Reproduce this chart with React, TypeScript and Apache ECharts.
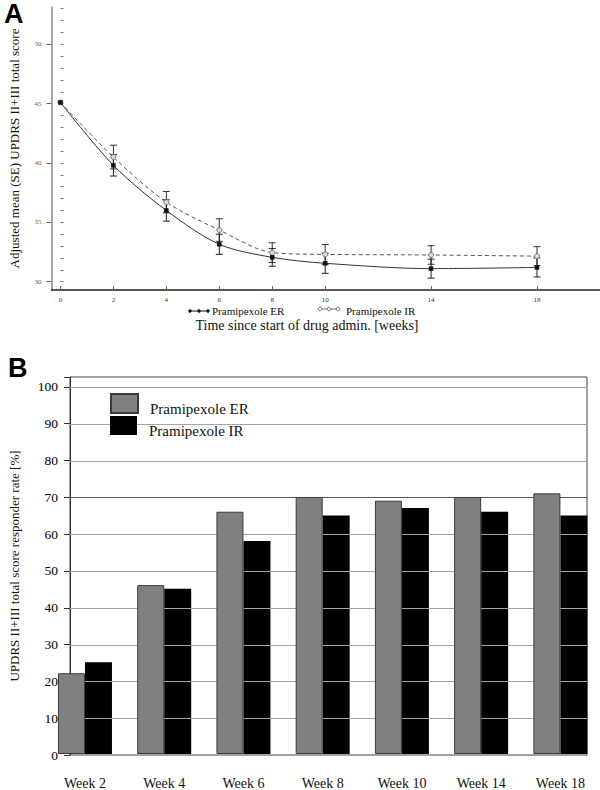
import React, { useEffect, useRef } from "react";
import * as echarts from "echarts";

// ---------- Panel A data ----------
const weeksA = [0, 2, 4, 6, 8, 10, 14, 18];
const erMeanA = [45.1, 39.8, 36.0, 33.15, 32.05, 31.55, 31.1, 31.2];
const erSEA = [0, 0.9, 0.9, 0.85, 0.75, 0.85, 0.8, 0.8];
const irMeanA = [45.1, 40.5, 36.7, 34.35, 32.45, 32.3, 32.25, 32.15];
const irSEA = [0, 1.0, 0.9, 0.95, 0.83, 0.83, 0.78, 0.8];
const xTicksA = [0, 2, 4, 6, 8, 10, 14, 18];
const yTicksA = [30, 35, 40, 45, 50];
const yMinorTicksA = [30, 31, 32, 33, 34, 35, 36, 37, 38, 39, 40, 41, 42, 43, 44, 45, 46, 47, 48, 49, 50, 51, 52, 53];

// ---------- Panel B data ----------
const weeksB = ["Week 2", "Week 4", "Week 6", "Week 8", "Week 10", "Week 14", "Week 18"];
const erRateB = [22, 46, 66, 70, 69, 70, 71];
const irRateB = [25, 45, 58, 65, 67, 66, 65];
const gridLinesB = [10, 20, 30, 40, 50, 60, 70, 80, 90, 100];

const SERIF = "Liberation Serif";
const SANS = "Liberation Sans";

function errorRender(color: string) {
  return (params: any, api: any) => {
    const x = api.value(0);
    const m = api.value(1);
    const se = api.value(2);
    if (!se) return { type: "group", children: [] };
    const t = api.coord([x, m + se]);
    const b = api.coord([x, m - se]);
    const hw = 3.5;
    const style = { stroke: color, lineWidth: 1 };
    return {
      type: "group",
      children: [
        { type: "line", shape: { x1: t[0], y1: t[1], x2: b[0], y2: b[1] }, style },
        { type: "line", shape: { x1: t[0] - hw, y1: t[1], x2: t[0] + hw, y2: t[1] }, style },
        { type: "line", shape: { x1: b[0] - hw, y1: b[1], x2: b[0] + hw, y2: b[1] }, style },
      ],
    };
  };
}

function gridLineRender(params: any, api: any) {
  const v = api.value(0);
  const cs = params.coordSys;
  const y = Math.round(api.coord([0, v])[1]) + 0.5;
  return {
    type: "line",
    shape: { x1: cs.x, y1: y, x2: cs.x + cs.width, y2: y },
    style: { stroke: v === 70 ? "#555" : "#a4a4a4", lineWidth: 1 },
  };
}

const legendText = {
  fontSize: 15,
  color: "#111",
  fontFamily: SERIF,
  rich: { t: { fontSize: 15, color: "#111", fontFamily: SERIF, padding: [10, 0, 0, 7] } },
};

export default function App() {
  const ref = useRef<HTMLDivElement>(null);

  useEffect(() => {
    document.body.style.margin = "0";
    if (!ref.current) return;
    const chart = echarts.init(ref.current, null, { renderer: "svg" });

    const option: any = {
      animation: false,
      backgroundColor: "#fff",
      textStyle: { fontFamily: SERIF },
      grid: [
        { left: 48, top: 7, width: 552, height: 283 },
        { left: 45.35, top: 377, width: 555.1, height: 378 },
        { left: 58, top: 377, width: 529, height: 378, show: true, borderColor: "#444", borderWidth: 1, backgroundColor: "transparent" },
      ],
      xAxis: [
        {
          type: "value",
          gridIndex: 0,
          min: -0.338,
          max: 20.38,
          axisLine: { show: true, onZero: false, lineStyle: { color: "#222", width: 1.5 } },
          axisTick: { show: true, inside: true, length: 4, customValues: xTicksA, lineStyle: { color: "#666" } },
          axisLabel: { customValues: xTicksA, fontSize: 7, color: "#333", margin: 6, fontFamily: SERIF },
          splitLine: { show: false },
        },
        {
          type: "category",
          gridIndex: 1,
          data: weeksB,
          axisLine: { show: false },
          axisTick: { show: false },
          axisLabel: { fontSize: 14, color: "#111", margin: 22, fontFamily: SERIF },
          splitLine: { show: false },
        },
        {
          type: "value",
          gridIndex: 2,
          min: 0,
          max: 1,
          show: false,
        },
      ],
      yAxis: [
        {
          type: "value",
          gridIndex: 0,
          min: 29.3,
          max: 53.14,
          name: "Adjusted mean (SE) UPDRS II+III total score",
          nameLocation: "middle",
          nameGap: 30.5,
          nameRotate: 90,
          nameTextStyle: { fontSize: 13, color: "#111", fontFamily: SERIF },
          axisLine: { show: true, onZero: false, lineStyle: { color: "#888", width: 1.5 } },
          axisTick: { show: true, length: 5, customValues: yTicksA, lineStyle: { color: "#666" } },
          axisLabel: { customValues: yTicksA, fontSize: 7, color: "#666", margin: 10, fontFamily: SERIF },
          splitLine: { show: false },
        },
        {
          type: "value",
          gridIndex: 0,
          min: 29.3,
          max: 53.14,
          axisLine: { show: false },
          axisTick: { show: true, length: 3, customValues: yMinorTicksA, lineStyle: { color: "#777" } },
          axisLabel: { show: false },
          splitLine: { show: false },
        },
        {
          type: "value",
          gridIndex: 1,
          min: 0,
          max: 102.7,
          show: false,
          splitLine: { show: false },
        },
        {
          type: "value",
          gridIndex: 2,
          min: 0,
          max: 102.7,
          interval: 10,
          name: "UPDRS II+III total score responder rate [%]",
          nameLocation: "middle",
          nameGap: 49,
          nameRotate: 90,
          nameTextStyle: { fontSize: 13, color: "#111", fontFamily: SERIF },
          axisLine: { show: true, lineStyle: { color: "#333", width: 1 } },
          axisTick: { show: true, length: 6, lineStyle: { color: "#333" } },
          axisLabel: {
            fontSize: 13.5,
            color: "#000",
            margin: 12,
            fontFamily: SERIF,
            formatter: (v: number) => (Math.abs(v % 10) < 1e-6 ? String(v) : ""),
          },
          splitLine: { show: false },
        },
      ],
      legend: [
        {
          data: ["Pramipexole ER"],
          left: 110,
          top: 393,
          padding: 0,
          z: 8,
          icon: "rect",
          itemWidth: 27,
          itemHeight: 19,
          formatter: "{t|{name}}",
          textStyle: legendText,
        },
        {
          data: ["Pramipexole IR"],
          left: 110,
          top: 416,
          padding: 0,
          z: 8,
          icon: "rect",
          itemWidth: 27,
          itemHeight: 19,
          formatter: "{t|{name}}",
          textStyle: legendText,
        },
      ],
      series: [
        {
          type: "custom",
          name: "irErr",
          xAxisIndex: 0,
          yAxisIndex: 0,
          data: weeksA.map((w, i) => [w, irMeanA[i], irSEA[i]]),
          renderItem: errorRender("#333"),
          z: 3,
        },
        {
          type: "custom",
          name: "erErr",
          xAxisIndex: 0,
          yAxisIndex: 0,
          data: weeksA.map((w, i) => [w, erMeanA[i], erSEA[i]]),
          renderItem: errorRender("#222"),
          z: 3,
        },
        {
          type: "line",
          name: "IR mean",
          xAxisIndex: 0,
          yAxisIndex: 0,
          data: weeksA.map((w, i) => [w, irMeanA[i]]),
          smooth: 0.3,
          symbol: "circle",
          symbolSize: 5,
          itemStyle: { color: "#ddd", borderColor: "#777", borderWidth: 1 },
          lineStyle: { color: "#555", width: 1, type: [4, 3] },
          z: 4,
        },
        {
          type: "line",
          name: "ER mean",
          xAxisIndex: 0,
          yAxisIndex: 0,
          data: weeksA.map((w, i) => [w, erMeanA[i]]),
          smooth: 0.3,
          symbol: "rect",
          symbolSize: 4.5,
          itemStyle: { color: "#111" },
          lineStyle: { color: "#333", width: 1 },
          z: 5,
        },
        {
          type: "bar",
          name: "Pramipexole ER",
          xAxisIndex: 1,
          yAxisIndex: 2,
          data: erRateB,
          barWidth: 27,
          barGap: "0%",
          itemStyle: { color: "#808080", borderColor: "#3a3a3a", borderWidth: 1 },
          z: 12,
        },
        {
          type: "bar",
          name: "Pramipexole IR",
          xAxisIndex: 1,
          yAxisIndex: 2,
          data: irRateB,
          barWidth: 27,
          barGap: "0%",
          itemStyle: { color: "#000" },
          z: 2,
        },
        {
          type: "custom",
          name: "gridlines",
          xAxisIndex: 2,
          yAxisIndex: 3,
          data: gridLinesB,
          silent: true,
          renderItem: gridLineRender,
          z: 6,
        },
      ],
      graphic: [
        { type: "text", left: 4, top: 0, style: { text: "A", font: `bold 27px ${SANS}`, fill: "#000" } },
        { type: "text", left: 8, top: 354, style: { text: "B", font: `bold 27px ${SANS}`, fill: "#000" } },
        {
          type: "text",
          x: 307,
          y: 325,
          style: { text: "Time since start of drug admin. [weeks]", font: `14px ${SERIF}`, fill: "#111", align: "center", verticalAlign: "middle" },
        },
        // Panel A legend: ER
        { type: "line", shape: { x1: 190, y1: 311, x2: 208, y2: 311 }, style: { stroke: "#111", lineWidth: 1 } },
        { type: "circle", shape: { cx: 190, cy: 311, r: 1.7 }, style: { fill: "#111" } },
        { type: "circle", shape: { cx: 199, cy: 311, r: 1.7 }, style: { fill: "#111" } },
        { type: "circle", shape: { cx: 208, cy: 311, r: 1.7 }, style: { fill: "#111" } },
        { type: "text", x: 212, y: 311, style: { text: "Pramipexole ER", font: `11px ${SERIF}`, fill: "#111", verticalAlign: "middle" } },
        // Panel A legend: IR
        { type: "line", shape: { x1: 320, y1: 309, x2: 338, y2: 309 }, style: { stroke: "#777", lineWidth: 1 } },
        { type: "circle", shape: { cx: 320, cy: 309, r: 1.8 }, style: { fill: "#fff", stroke: "#777", lineWidth: 1 } },
        { type: "circle", shape: { cx: 329, cy: 309, r: 1.8 }, style: { fill: "#fff", stroke: "#777", lineWidth: 1 } },
        { type: "circle", shape: { cx: 338, cy: 309, r: 1.8 }, style: { fill: "#fff", stroke: "#777", lineWidth: 1 } },
        { type: "text", x: 346, y: 311, style: { text: "Pramipexole IR", font: `11px ${SERIF}`, fill: "#111", verticalAlign: "middle" } },
      ],
    };

    chart.setOption(option);
    return () => chart.dispose();
  }, []);

  return <div ref={ref} style={{ width: 600, height: 790 }} />;
}
